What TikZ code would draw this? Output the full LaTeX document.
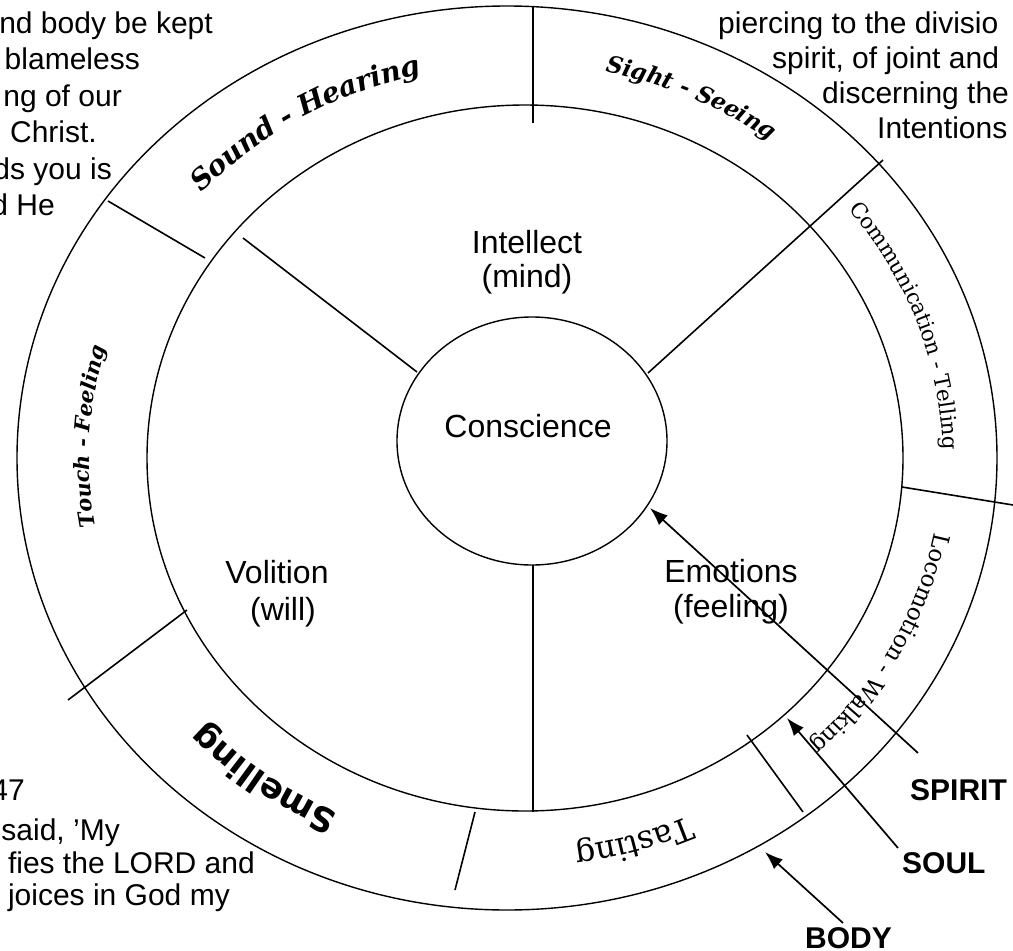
\documentclass[tikz,border=0pt]{standalone}
\usepackage{fontspec}
\setmainfont{Liberation Sans}
\newfontfamily\dvserif{DejaVu Serif}
\newfontfamily\dvsans{DejaVu Sans}
\usetikzlibrary{arrows.meta,shapes.geometric,decorations.text,calc}

\newcommand\ringlabel[4]{%
  \path[decorate,decoration={text along path,text align=center,raise=#2,text={|#3|#4}}]
    ($(516,-458)+({#1+45}:434pt and 402.5pt)$)
    arc[start angle={#1+45},end angle={#1-45},x radius=434pt,y radius=402.5pt];%
}

\tikzset{
  ring/.style={draw, ellipse, line width=1.4pt, inner sep=0pt, outer sep=0pt},
  divider/.style={line width=1.6pt},
  pointer/.style={line width=1.7pt, -{Latex[length=18pt,width=13pt]}},
  soullabel/.style={font=\fontsize{32}{35}\selectfont, inner sep=0pt, anchor=base},
  leftfrag/.style={font=\fontsize{30}{36}\selectfont, inner sep=0pt, anchor=base east},
  rightfrag/.style={font=\fontsize{30}{36}\selectfont, inner sep=0pt, anchor=base west},
  tag/.style={font=\bfseries\fontsize{30}{34}\selectfont, inner sep=0pt, anchor=base west},
}

\begin{document}
\begin{tikzpicture}[x=1pt,y=1pt]
  \fill[white] (0,-951) rectangle (1013,0);
  \useasboundingbox (0,-951) rectangle (1013,0);
  \clip (0,-951) rectangle (1013,0);

  % rings
  \node[ring, minimum width=980pt, minimum height=904pt] (outer) at (507,-458) {};
  \node[ring, minimum width=756pt, minimum height=706pt] (middle) at (525,-458) {};
  \node[ring, minimum width=270pt, minimum height=248pt] (inner) at (532,-441) {};

  % divider end points
  \coordinate (a1) at (533,-6);    \coordinate (a2) at (533,-123);
  \coordinate (b1) at (108,-201);  \coordinate (b2) at (205,-258);
  \coordinate (c1) at (648,-373);  \coordinate (c2) at (883,-160);
  \coordinate (d1) at (902,-487);  \coordinate (d2) at (1013,-505);
  \coordinate (e1) at (747,-735);  \coordinate (e2) at (803,-812);
  \coordinate (f1) at (475,-812);  \coordinate (f2) at (455,-890);
  \coordinate (g1) at (187,-610);  \coordinate (g2) at (68,-700);
  \coordinate (h1) at (243,-238);  \coordinate (h2) at (417,-372);
  \coordinate (k1) at (533,-565);  \coordinate (k2) at (533,-812);

  \draw[divider] (a1) -- (a2);
  \draw[divider] (b1) -- (b2);
  \draw[divider] (c1) -- (c2);
  \draw[divider] (d1) -- (d2);
  \draw[divider] (e1) -- (e2);
  \draw[divider] (f1) -- (f2);
  \draw[divider] (g1) -- (g2);
  \draw[divider] (h1) -- (h2);
  \draw[divider] (k1) -- (k2);

  % ring labels (clockwise, tops outward)
  \ringlabel{121}{-9pt}{\dvserif\bfseries\itshape\fontsize{28}{30}\selectfont}{Sound - Hearing}
  \ringlabel{65}{-7.5pt}{\dvserif\bfseries\itshape\fontsize{23}{25}\selectfont}{Sight - Seeing}
  \ringlabel{19.5}{-7pt}{\dvserif\fontsize{21.5}{23}\selectfont}{Communication - Telling}
  \ringlabel{-28}{-7.5pt}{\dvserif\fontsize{23}{25}\selectfont}{Locomotion - Walking}
  \ringlabel{-73.5}{-10pt}{\dvserif\fontsize{32}{34}\selectfont}{Tasting}
  \ringlabel{-127}{-11pt}{\dvsans\bfseries\fontsize{34}{36}\selectfont}{Smelling}
  \ringlabel{177}{-7pt}{\dvserif\bfseries\itshape\fontsize{21}{23}\selectfont}{Touch - Feeling}

  % soul and spirit labels
  \node[soullabel] (consc) at (528,-437) {Conscience};
  \node[soullabel] (intel) at (527,-253) {Intellect};
  \node[soullabel] (mind)  at (527,-287) {(mind)};
  \node[soullabel] (vol)   at (277,-583) {Volition};
  \node[soullabel] (will)  at (283,-620) {(will)};
  \node[soullabel] (emo)   at (731,-582) {Emotions};
  \node[soullabel] (feel)  at (731,-617) {(feeling)};

  % side text fragments
  \node[leftfrag] (tl1) at (213,-33)  {nd body be kept};
  \node[leftfrag] (tl2) at (140,-69)  {blameless};
  \node[leftfrag] (tl3) at (122,-106) {ng of our};
  \node[leftfrag] (tl4) at (97,-142)  {Christ.};
  \node[leftfrag] (tl5) at (112,-179) {ds you is};
  \node[leftfrag] (tl6) at (55,-215)  {d He};

  \node[rightfrag] (tr1) at (718,-33)  {piercing to the divisio};
  \node[rightfrag] (tr2) at (772,-68)  {spirit, of joint and};
  \node[rightfrag] (tr3) at (822,-103) {discerning the};
  \node[rightfrag] (tr4) at (877,-138) {Intentions};

  \node[leftfrag] (bl1) at (25,-800)  {47};
  \node[leftfrag] (bl2) at (120,-840) {said, ’My};
  \node[leftfrag] (bl3) at (255,-873) {fies the LORD and};
  \node[leftfrag] (bl4) at (230,-905) {joices in God my};

  % tags and arrows
  \node[tag] (spirit) at (910,-800) {SPIRIT};
  \node[tag] (soul)   at (902,-873) {SOUL};
  \node[tag] (body)   at (805,-948) {BODY};

  \coordinate (spiritTail) at (918,-753); \coordinate (spiritTip) at (650,-508);
  \coordinate (soulTail)   at (898,-848); \coordinate (soulTip)   at (787,-718);
  \coordinate (bodyTail)   at (843,-923); \coordinate (bodyTip)   at (765,-852);

  \draw[pointer] (spiritTail) -- (spiritTip);
  \draw[pointer] (soulTail) -- (soulTip);
  \draw[pointer] (bodyTail) -- (bodyTip);
\end{tikzpicture}
\end{document}
